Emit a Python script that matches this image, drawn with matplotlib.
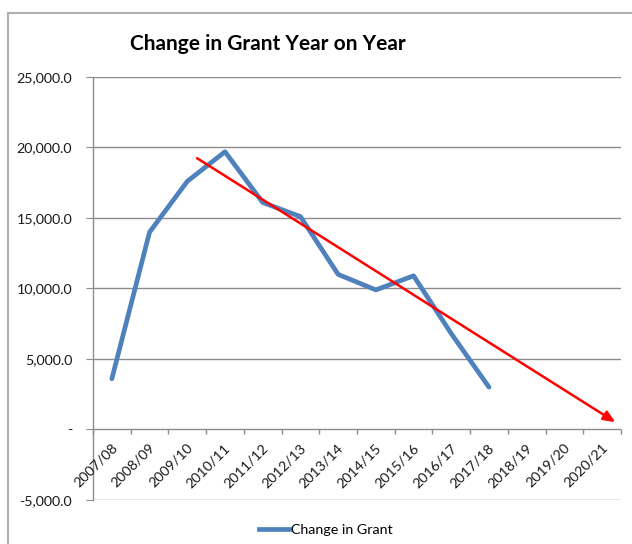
import matplotlib
matplotlib.use("Agg")
import matplotlib.pyplot as plt
from matplotlib.lines import Line2D
from matplotlib.ticker import FuncFormatter
from matplotlib.transforms import offset_copy

# Data
years = ["2007/08", "2008/09", "2009/10", "2010/11", "2011/12", "2012/13", "2013/14",
         "2014/15", "2015/16", "2016/17", "2017/18", "2018/19", "2019/20", "2020/21"]
change_in_grant = [3600, 14000, 17600, 19700, 16100, 15100, 11000, 9900, 10900, 6800, 3000]
trend_start = (2.26, 19240)   # (category index, value)
trend_end = (13.35, 520)
y_ticks = [-5000, 0, 5000, 10000, 15000, 20000, 25000]

plt.rcParams["font.family"] = ["Lato", "DejaVu Sans"]

fig = plt.figure(figsize=(6.32, 5.44), dpi=100)
W, H = 632, 544
ax = fig.add_axes([93 / W, 1 - 500 / H, (621 - 93) / W, (500 - 77) / H])

grid_c = "#8c8c8c"
blue = "#4F81BD"
txt_c = "#1a1a1a"
fs = 10.3

x = list(range(len(change_in_grant)))
ax.plot(x, change_in_grant, color=blue, lw=3.4, solid_capstyle="round",
        solid_joinstyle="round", zorder=3)

ax.annotate("", xy=trend_end, xytext=trend_start,
            arrowprops=dict(arrowstyle="-|>,head_length=0.7,head_width=0.3",
                            color="#FF0000", lw=1.8, shrinkA=0, shrinkB=0),
            zorder=4)

ax.set_xlim(-0.5, len(years) - 0.5)
ax.set_ylim(-5000, 25000)

# Horizontal gridlines
for v in y_ticks:
    ax.axhline(v, color=grid_c, lw=1.0, zorder=1 if v else 2)

for s in ["top", "right", "bottom"]:
    ax.spines[s].set_visible(False)
ax.spines["left"].set_color(grid_c)
ax.spines["left"].set_linewidth(1.0)

ax.set_yticks(y_ticks)
ax.yaxis.set_major_formatter(FuncFormatter(lambda v, p: "-" if v == 0 else f"{v:,.1f}"))
ax.tick_params(axis="y", length=5, color=grid_c, labelsize=fs, pad=10, labelcolor=txt_c)

# Category labels under the zero line, tick marks at category boundaries
ax.set_xticks([])
label_tf = offset_copy(ax.transData, fig=fig, x=-1, y=-12, units="dots")
for i, name in enumerate(years):
    ax.text(i, 0, name, rotation=45, ha="right", va="top", rotation_mode="anchor",
            fontsize=fs, color=txt_c, transform=label_tf)

ax.vlines([b - 0.5 for b in range(len(years) + 1)], -300, 0, color=grid_c, lw=1.0,
          zorder=2, clip_on=False)

fig.text(268 / W, 1 - 44 / H, "Change in Grant Year on Year", fontsize=15,
         fontweight="bold", color="black", ha="center", va="center")

# Legend
fig.legend([Line2D([0], [0], color=blue, lw=3.4)], ["Change in Grant"],
           loc="center left", bbox_to_anchor=(246 / W, 1 - 530 / H), frameon=False,
           fontsize=fs, handlelength=2.1, handletextpad=0.15)

# Chart area border
fig.add_artist(Line2D([8 / W, 8 / W], [0, 1 - 13 / H], transform=fig.transFigure,
                      color="#b0b0b0", lw=1.5))
fig.add_artist(Line2D([8 / W, 1], [1 - 13 / H, 1 - 13 / H], transform=fig.transFigure,
                      color="#b0b0b0", lw=1.5))

fig.savefig("out.png", dpi=100, facecolor="white")
